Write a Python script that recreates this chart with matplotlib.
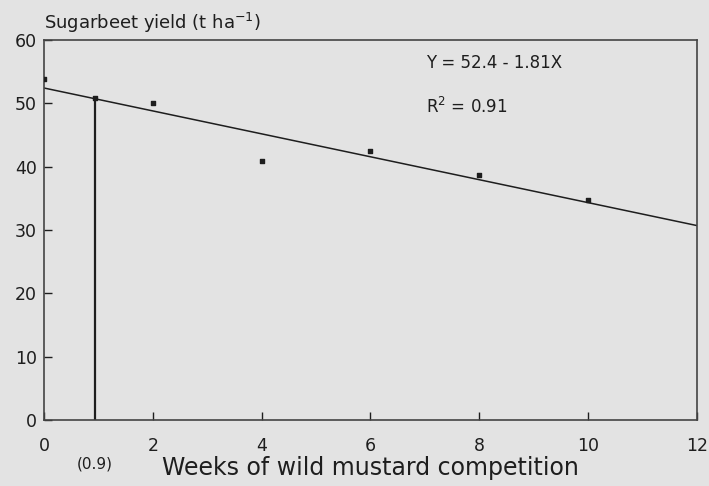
import numpy as np
import matplotlib.pyplot as plt

plt.rcParams['font.family'] = ['DejaVu Sans']
plt.rcParams['mathtext.default'] = 'regular'

# observed yields
weeks = [0, 0.93, 2, 4, 6, 8, 10]
yield_t = [53.8, 50.8, 50.0, 40.9, 42.4, 38.7, 34.7]

# fitted regression Y = 52.4 - 1.81X
fit_x = [0, 12]
fit_y = [52.4, 30.68]
drop_x = 0.93
drop_y = 50.7

xticks = [0, 2, 4, 6, 8, 10, 12]
yticks = [0, 10, 20, 30, 40, 50, 60]

bg = '#e3e3e3'
ink = '#1e1e1e'

fig = plt.figure(figsize=(7.09, 4.86), dpi=100, facecolor=bg)
ax = fig.add_axes([0.062, 0.136, 0.921, 0.782], facecolor=bg)

ax.plot(fit_x, fit_y, color=ink, linewidth=1.1)
ax.plot([drop_x, drop_x], [0, drop_y], color=ink, linewidth=1.6)
ax.scatter(weeks, yield_t, s=6, marker='s', color=ink, zorder=3)

ax.set_xlim(0, 12)
ax.set_ylim(0, 60)
ax.set_xticks(xticks)
ax.set_yticks(yticks)
ax.tick_params(direction='in', length=6, width=1, colors=ink, labelsize=12.5)
ax.tick_params(axis='x', pad=12)
ax.tick_params(axis='y', pad=5)
for s in ax.spines.values():
    s.set_color('#444444')
    s.set_linewidth(1.2)

ax.text(0.0, 1.029, 'Sugarbeet yield (t ha$^{-1}$)', transform=ax.transAxes,
        fontsize=13, color=ink, ha='left', va='baseline')
ax.text(0.585, 0.94, 'Y = 52.4 - 1.81X', transform=ax.transAxes,
        fontsize=12, color=ink, ha='left', va='center')
ax.text(0.585, 0.824, 'R$^2$ = 0.91', transform=ax.transAxes,
        fontsize=12, color=ink, ha='left', va='center')

ax.text(drop_x, -0.115, '(0.9)', transform=ax.get_xaxis_transform(),
        fontsize=11, color=ink, ha='center', va='center')
ax.set_xlabel('Weeks of wild mustard competition', fontsize=17, color=ink, labelpad=0)
ax.xaxis.set_label_coords(0.5, -0.126)
ax.xaxis.label.set_va('center')

fig.savefig('out.png', dpi=100, facecolor=bg)
